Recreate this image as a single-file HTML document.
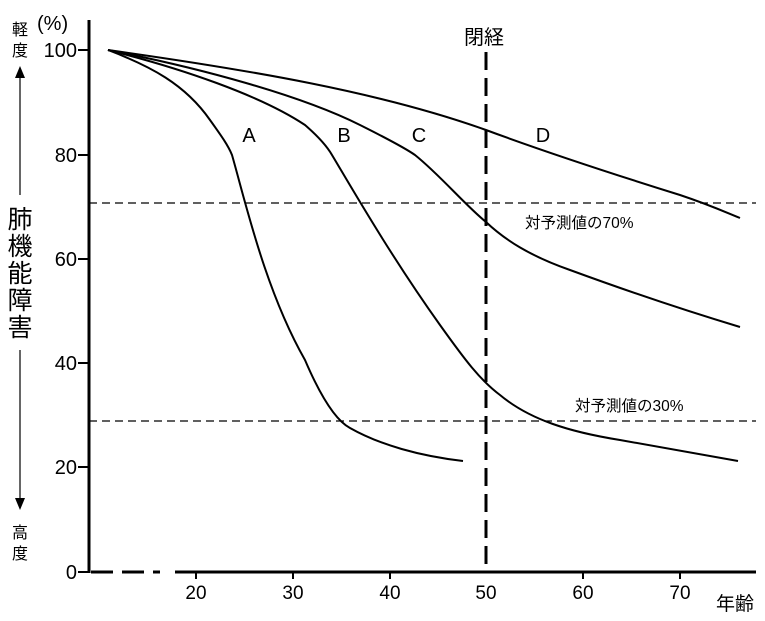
<!DOCTYPE html>
<html><head><meta charset="utf-8"><style>
body{margin:0;background:#fff;}
svg text{font-family:"Liberation Sans","Noto Sans CJK JP",sans-serif;fill:#000;}
</style></head><body>
<svg width="765" height="616" viewBox="0 0 765 616" xmlns="http://www.w3.org/2000/svg">
<g stroke="#000" fill="none">
<line x1="89" y1="20" x2="89" y2="573" stroke-width="3"/>
<line x1="91" y1="572" x2="160" y2="572" stroke-width="3" stroke-dasharray="22,9"/>
<line x1="175" y1="572" x2="756" y2="572" stroke-width="3"/>
<g stroke-width="2">
<line x1="78" y1="50" x2="89" y2="50"/><line x1="78" y1="155" x2="89" y2="155"/><line x1="78" y1="259" x2="89" y2="259"/>
<line x1="78" y1="363" x2="89" y2="363"/><line x1="78" y1="467" x2="89" y2="467"/><line x1="78" y1="572" x2="89" y2="572"/>
<line x1="196" y1="572" x2="196" y2="579"/><line x1="293" y1="572" x2="293" y2="579"/><line x1="390" y1="572" x2="390" y2="579"/>
<line x1="583" y1="572" x2="583" y2="579"/><line x1="680" y1="572" x2="680" y2="579"/>
</g>
<line x1="89" y1="203" x2="756" y2="203" stroke-width="1.2" stroke-dasharray="8,5"/>
<line x1="89" y1="421" x2="756" y2="421" stroke-width="1.2" stroke-dasharray="8,5"/>
<line x1="486" y1="52" x2="486" y2="572" stroke-width="3" stroke-dasharray="18,8"/>
<line x1="20" y1="75" x2="20" y2="195" stroke-width="1.2"/>
<line x1="20" y1="350" x2="20" y2="500" stroke-width="1.2"/>
<g stroke-width="2">
<path d="M108,50 C150,66 185,84 210,120 C220,134 228,145 232,155 C245,200 265,290 305,360 C320,395 335,420 350,428 C380,445 420,456 463,461"/>
<path d="M108,50 C180,68 260,95 305,125 C320,138 328,148 332,155 C350,185 390,255 440,325 C465,360 480,380 500,395 C530,420 570,432 620,440 C660,447 700,454 738,461"/>
<path d="M108,50 C200,68 300,95 360,125 C390,140 405,148 415,155 C440,175 465,205 486,222 C505,240 530,256 570,270 C630,292 690,312 740,327"/>
<path d="M108,50 C250,70 380,92 486,130 C540,150 600,170 680,195 C710,205 725,212 740,218"/>
</g>
</g>
<polygon points="20,66 15,78 25,78" fill="#000"/>
<polygon points="20,510 15,498 25,498" fill="#000"/>
<g font-size="20" text-anchor="end">
<text x="77" y="57">100</text><text x="77" y="162">80</text><text x="77" y="266">60</text>
<text x="77" y="370">40</text><text x="77" y="474">20</text><text x="77" y="579">0</text>
</g>
<text x="37" y="30" font-size="20">(%)</text>
<g font-size="19" text-anchor="middle">
<text x="196" y="599">20</text><text x="293" y="599">30</text><text x="390" y="599">40</text>
<text x="486" y="599">50</text><text x="583" y="599">60</text><text x="680" y="599">70</text>
</g>
<text x="735" y="610" font-size="19" text-anchor="middle">年齢</text>
<g font-size="16" text-anchor="middle">
<text x="20" y="35">軽</text><text x="20" y="56">度</text>
<text x="20" y="538">高</text><text x="20" y="559">度</text>
</g>
<g font-size="25" text-anchor="middle">
<text x="20" y="228">肺</text><text x="20" y="255">機</text><text x="20" y="282">能</text><text x="20" y="309">障</text><text x="20" y="336">害</text>
</g>
<g font-size="20" text-anchor="middle">
<text x="249" y="142">A</text><text x="344" y="142">B</text><text x="419" y="142">C</text><text x="543" y="142">D</text>
</g>
<text x="484" y="44" font-size="20" text-anchor="middle">閉経</text>
<text x="525" y="228" font-size="15.5">対予測値の70%</text>
<text x="575" y="411" font-size="15.5">対予測値の30%</text>
</svg>
</body></html>
